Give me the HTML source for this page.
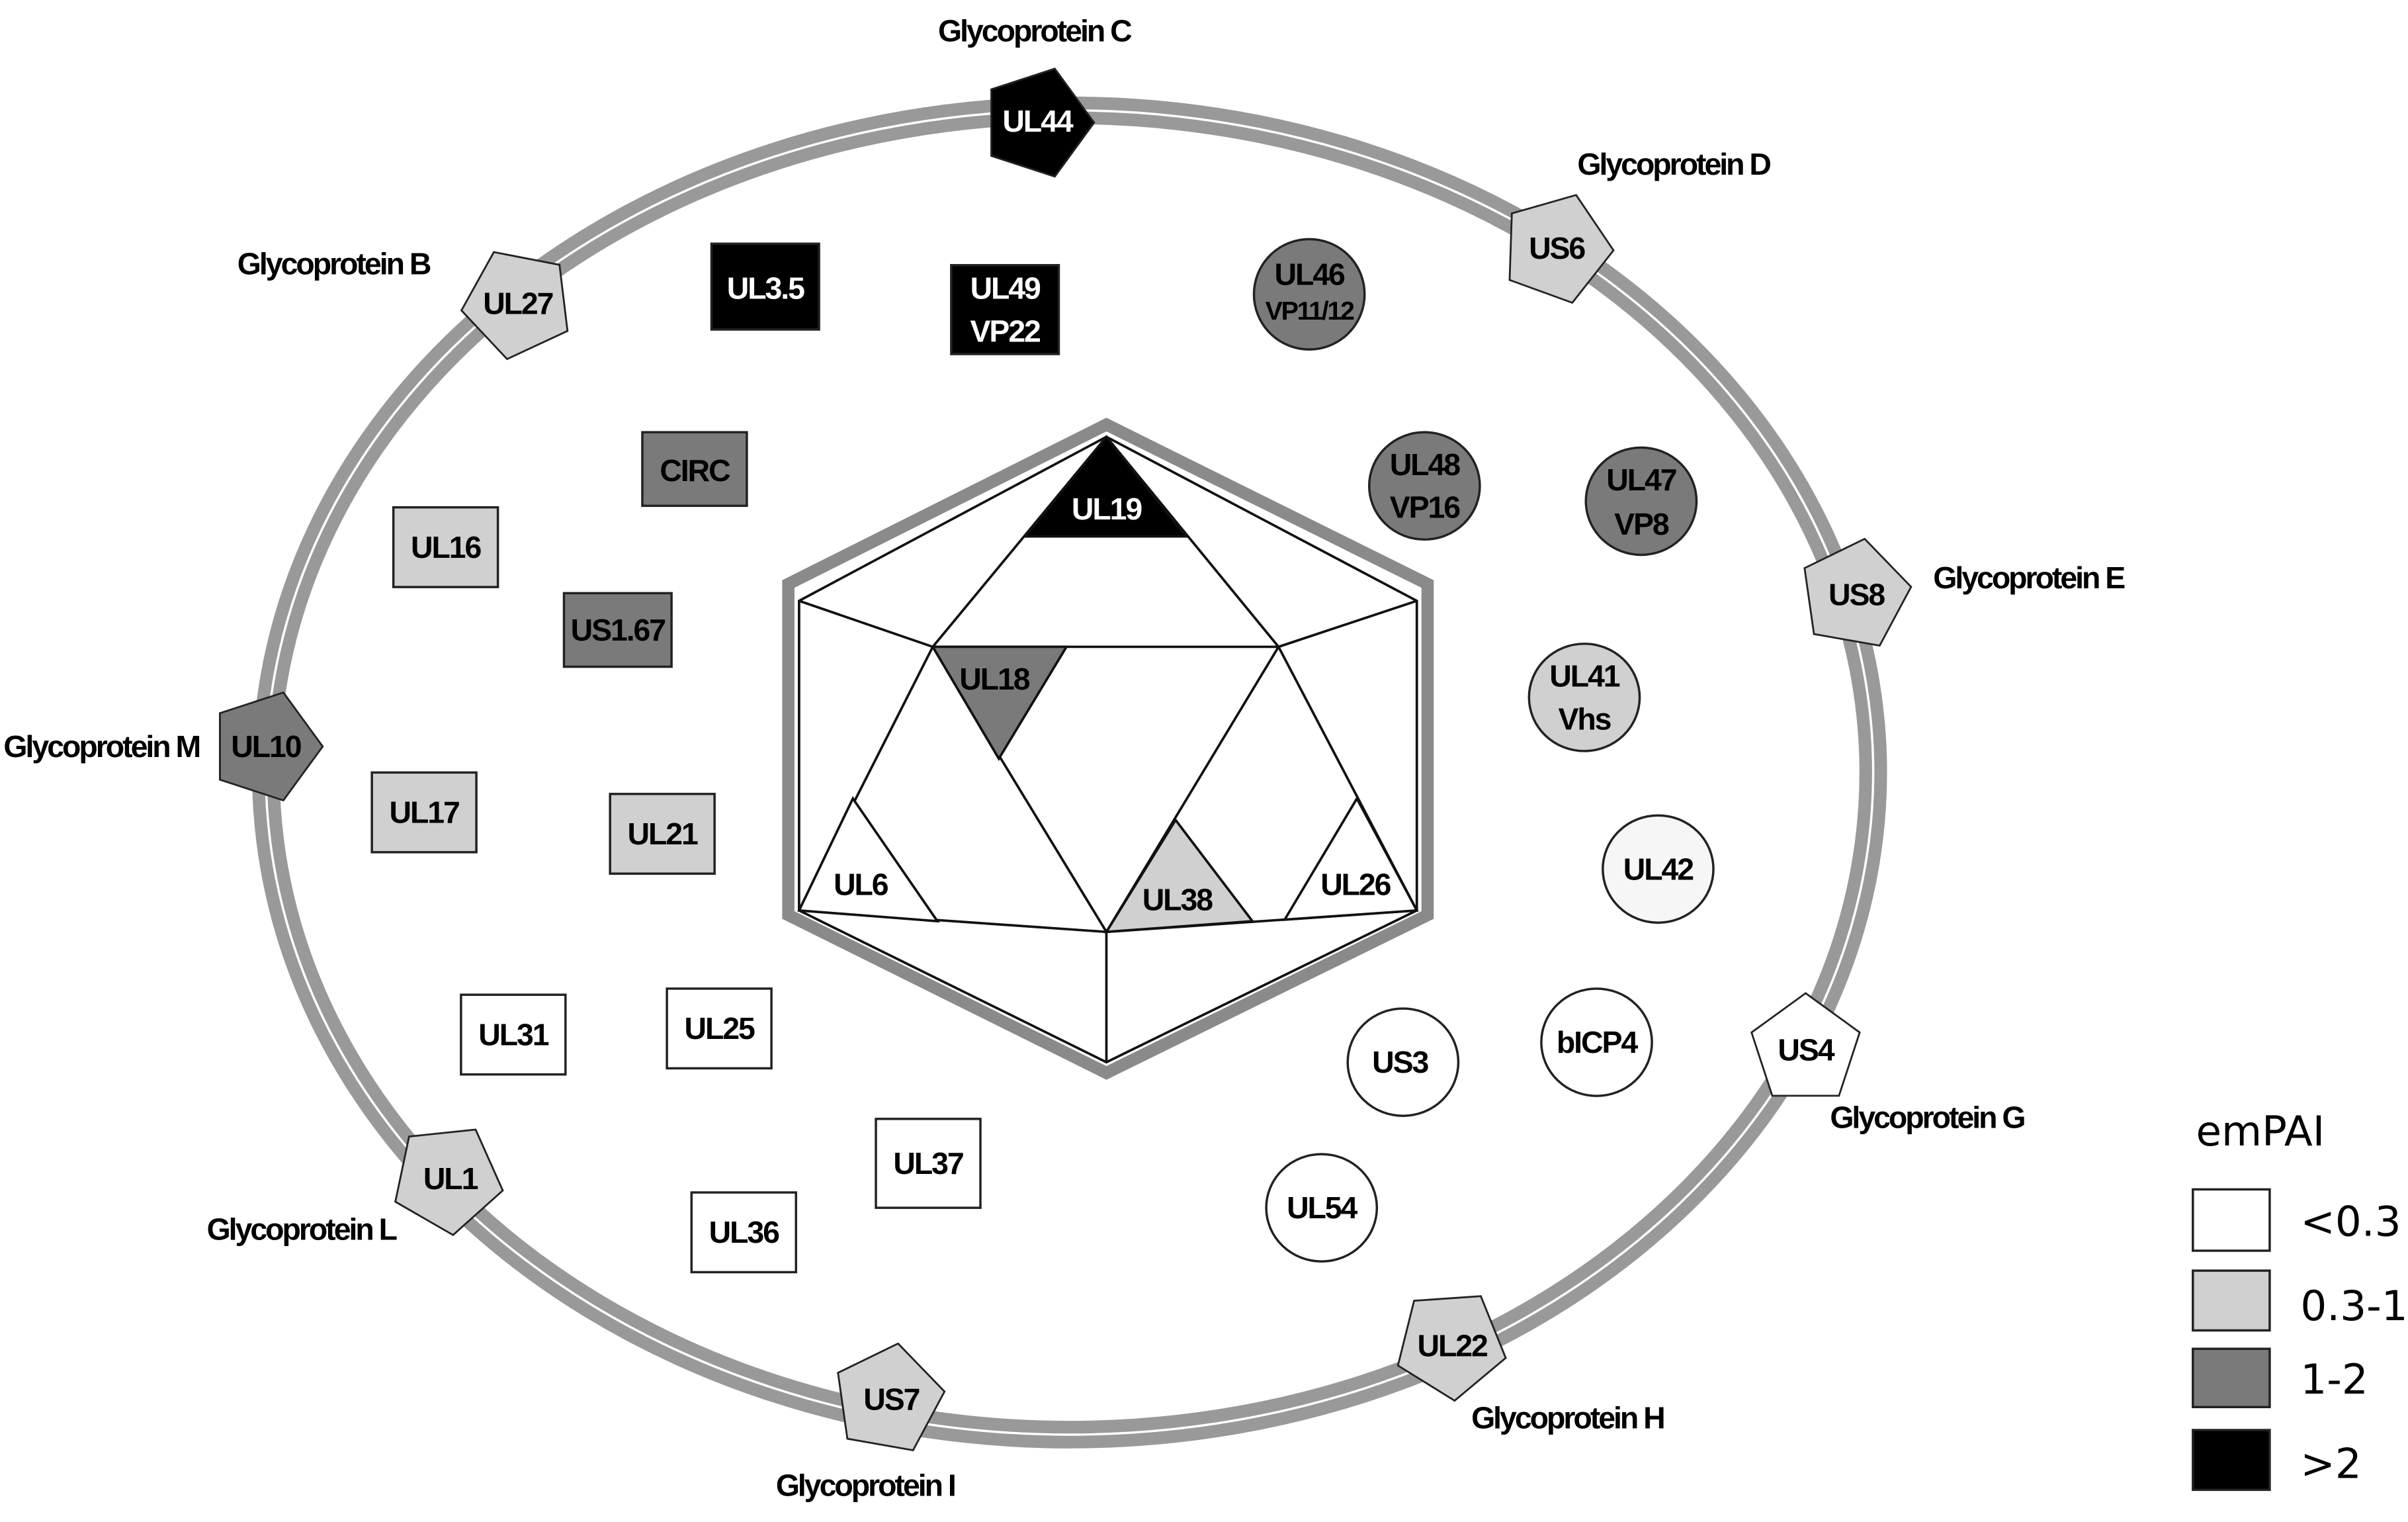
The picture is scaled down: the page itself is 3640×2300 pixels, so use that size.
<!DOCTYPE html>
<html><head><meta charset="utf-8"><style>
html,body{margin:0;padding:0;background:#fff}
svg{display:block}
text{font-family:"Liberation Sans Narrow","Liberation Sans",sans-serif;font-weight:bold;font-size:20px;letter-spacing:-0.9px;text-anchor:middle;dominant-baseline:central}
.w{fill:#fff}
.gl{font-size:20px;letter-spacing:-1.3px}
.lg{font-family:"DejaVu Sans","Liberation Sans",sans-serif;font-weight:normal;font-size:27px;letter-spacing:0;text-anchor:start}
</style></head><body>
<svg width="3640" height="2300" viewBox="0 0 1567 993" preserveAspectRatio="none" xmlns="http://www.w3.org/2000/svg">
<defs>
<polygon id="pg" points="0,-37 35.2,-11.4 21.7,29.9 -21.7,29.9 -35.2,-11.4" stroke="#222" stroke-width="1.2"/>
</defs>
<rect width="1567" height="993" fill="#fff"/>
<ellipse cx="696" cy="504" rx="523" ry="432" fill="none" stroke="#999" stroke-width="18"/>
<ellipse cx="696" cy="504" rx="523" ry="432" fill="none" stroke="#fff" stroke-width="1.5"/>
<polygon points="720,277 929,381 929,597 720,700 513,597 513,381" fill="#fff" stroke="#8a8a8a" stroke-width="8"/>
<g stroke="#111" stroke-width="1.6" fill="none">
<polygon points="720,285 922,392 922,594 720,693 520,594 520,392"/>
<line x1="520" y1="392" x2="607" y2="422"/><line x1="922" y1="392" x2="832" y2="422"/>
<line x1="607" y1="422" x2="832" y2="422"/>
<line x1="720" y1="285" x2="607" y2="422"/><line x1="720" y1="285" x2="832" y2="422"/>
<line x1="607" y1="422" x2="520" y2="594"/><line x1="832" y1="422" x2="922" y2="594"/>
<line x1="607" y1="422" x2="720" y2="608"/><line x1="832" y1="422" x2="720" y2="608"/>
<line x1="520" y1="594" x2="720" y2="608"/><line x1="720" y1="608" x2="922" y2="594"/>
<line x1="720" y1="608" x2="720" y2="693"/>
</g>
<g stroke="#111" stroke-width="1.6">
<polygon points="720,285 667,350 772,350" fill="#000"/>
<polygon points="607,422 694,422 650,495" fill="#7a7a7a"/>
<polygon points="555,521 520,594 610,601" fill="#fff"/>
<polygon points="765,535 720,608 815,601" fill="#d0d0d0"/>
<polygon points="883,521 836,600 922,594" fill="#fff"/>
</g>
<text x="720" y="332" class="w">UL19</text>
<text x="647" y="443">UL18</text>
<text x="560" y="577">UL6</text>
<text x="766" y="587">UL38</text>
<text x="882" y="577">UL26</text>
<g>
<use href="#pg" transform="translate(675,80) rotate(90)" fill="#000"/>
<use href="#pg" transform="translate(1013,162) rotate(20)" fill="#d0d0d0"/>
<use href="#pg" transform="translate(337,198) rotate(-25)" fill="#d0d0d0"/>
<use href="#pg" transform="translate(1207,388) rotate(10)" fill="#d0d0d0"/>
<use href="#pg" transform="translate(173,487) rotate(90)" fill="#7a7a7a"/>
<use href="#pg" transform="translate(1175,685) rotate(0)" fill="#fff"/>
<use href="#pg" transform="translate(291,769) rotate(30)" fill="#d0d0d0"/>
<use href="#pg" transform="translate(944,877) rotate(-40)" fill="#d0d0d0"/>
<use href="#pg" transform="translate(578,913) rotate(10)" fill="#d0d0d0"/>
</g>
<text x="675" y="79" class="w">UL44</text>
<text x="1013" y="162">US6</text>
<text x="337" y="198">UL27</text>
<text x="1208" y="388">US8</text>
<text x="173" y="487">UL10</text>
<text x="1175" y="685">US4</text>
<text x="293" y="769">UL1</text>
<text x="945" y="878">UL22</text>
<text x="580" y="913">US7</text>
<text x="673" y="20" class="gl">Glycoprotein C</text>
<text x="1089" y="107" class="gl">Glycoprotein D</text>
<text x="217" y="172" class="gl">Glycoprotein B</text>
<text x="1320" y="377" class="gl">Glycoprotein E</text>
<text x="66" y="487" class="gl">Glycoprotein M</text>
<text x="1254" y="729" class="gl">Glycoprotein G</text>
<text x="196" y="802" class="gl">Glycoprotein L</text>
<text x="1020" y="925" class="gl">Glycoprotein H</text>
<text x="563" y="969" class="gl">Glycoprotein I</text>
<g stroke="#222" stroke-width="1.5">
<rect x="463" y="159" width="70" height="56" fill="#000"/>
<rect x="619" y="173" width="70" height="58" fill="#000"/>
<rect x="418" y="282" width="68" height="48" fill="#7a7a7a"/>
<rect x="256" y="331" width="68" height="52" fill="#d0d0d0"/>
<rect x="367" y="387" width="70" height="48" fill="#7a7a7a"/>
<rect x="242" y="504" width="68" height="52" fill="#d0d0d0"/>
<rect x="397" y="518" width="68" height="52" fill="#d0d0d0"/>
<rect x="300" y="649" width="68" height="52" fill="#fff"/>
<rect x="434" y="645" width="68" height="52" fill="#fff"/>
<rect x="570" y="730" width="68" height="58" fill="#fff"/>
<rect x="450" y="778" width="68" height="52" fill="#fff"/>
</g>
<text x="498" y="188" class="w">UL3.5</text>
<text x="654" y="188" class="w">UL49</text>
<text x="654" y="216" class="w">VP22</text>
<text x="452" y="307">CIRC</text>
<text x="290" y="357">UL16</text>
<text x="402" y="411">US1.67</text>
<text x="276" y="530">UL17</text>
<text x="431" y="544">UL21</text>
<text x="334" y="675">UL31</text>
<text x="468" y="671">UL25</text>
<text x="604" y="759">UL37</text>
<text x="484" y="804">UL36</text>
<g stroke="#222" stroke-width="1.5">
<ellipse cx="852" cy="192" rx="36" ry="36" fill="#7a7a7a"/>
<ellipse cx="927" cy="317" rx="36" ry="35" fill="#7a7a7a"/>
<ellipse cx="1068" cy="327" rx="36" ry="35" fill="#7a7a7a"/>
<ellipse cx="1031" cy="455" rx="36" ry="35" fill="#d0d0d0"/>
<ellipse cx="1079" cy="567" rx="36" ry="35" fill="#f6f6f6"/>
<ellipse cx="913" cy="693" rx="36" ry="35" fill="#fff"/>
<ellipse cx="1039" cy="680" rx="36" ry="35" fill="#fff"/>
<ellipse cx="860" cy="788" rx="36" ry="35" fill="#fff"/>
</g>
<text x="852" y="179">UL46</text>
<text x="852" y="203" style="font-size:17px;letter-spacing:-1px">VP11/12</text>
<text x="927" y="303">UL48</text>
<text x="927" y="331">VP16</text>
<text x="1068" y="313">UL47</text>
<text x="1068" y="342">VP8</text>
<text x="1031" y="441">UL41</text>
<text x="1031" y="469">Vhs</text>
<text x="1079" y="567">UL42</text>
<text x="911" y="693">US3</text>
<text x="1039" y="680">bICP4</text>
<text x="860" y="788">UL54</text>
<text x="1429" y="738" class="lg">emPAI</text>
<g stroke="#222" stroke-width="1.5">
<rect x="1427" y="776" width="50" height="40" fill="#fff"/>
<rect x="1427" y="829" width="50" height="39" fill="#d0d0d0"/>
<rect x="1427" y="880" width="50" height="38" fill="#7a7a7a"/>
<rect x="1427" y="933" width="50" height="39" fill="#000"/>
</g>
<text x="1497" y="797" class="lg">&lt;0.3</text>
<text x="1497" y="852" class="lg">0.3-1</text>
<text x="1497" y="900" class="lg">1-2</text>
<text x="1497" y="955" class="lg">&gt;2</text>
</svg>
</body></html>
